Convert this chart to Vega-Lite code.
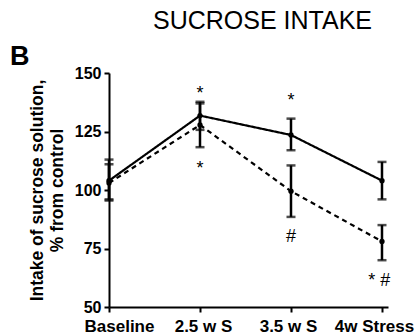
{
  "$schema": "https://vega.github.io/schema/vega-lite/v6.json",
  "autosize": "none",
  "padding": {"left": 109, "top": 73, "right": 30, "bottom": 29},
  "width": 279,
  "height": 234,
  "background": "white",
  "config": {
    "view": {"stroke": null},
    "font": "Liberation Sans",
    "axis": {
      "grid": false,
      "domainColor": "black",
      "domainWidth": 2,
      "tickColor": "black",
      "tickWidth": 2,
      "tickSize": 5,
      "labelColor": "black",
      "labelFont": "Liberation Sans",
      "labelFontWeight": "bold",
      "titleColor": "black",
      "titleFont": "Liberation Sans",
      "titleFontWeight": "bold"
    }
  },
  "title": {
    "text": "SUCROSE INTAKE",
    "font": "Liberation Sans",
    "fontSize": 25,
    "fontWeight": "normal",
    "color": "black",
    "anchor": "middle",
    "frame": "group",
    "baseline": "alphabetic",
    "offset": -11,
    "dx": 14
  },
  "datasets": {
    "means": [
      {"time": "Baseline", "pos": 0, "group": "A", "mean": 104, "lo": 96, "hi": 113},
      {"time": "2.5 w S", "pos": 1, "group": "A", "mean": 131.8, "lo": 125.7, "hi": 137.7},
      {"time": "3.5 w S", "pos": 2, "group": "A", "mean": 123.5, "lo": 117, "hi": 130.5},
      {"time": "4w Stress", "pos": 3, "group": "A", "mean": 104, "lo": 96, "hi": 112},
      {"time": "Baseline", "pos": 0, "group": "B", "mean": 103, "lo": 95.5, "hi": 111},
      {"time": "2.5 w S", "pos": 1, "group": "B", "mean": 127.8, "lo": 118.3, "hi": 137},
      {"time": "3.5 w S", "pos": 2, "group": "B", "mean": 99.5, "lo": 88.5, "hi": 110.5},
      {"time": "4w Stress", "pos": 3, "group": "B", "mean": 78, "lo": 70, "hi": 85}
    ],
    "notes": [
      {"pos": 1, "y": 139, "label": "*"},
      {"pos": 1, "y": 107, "label": "*"},
      {"pos": 2, "y": 135.8, "label": "*"},
      {"pos": 2, "y": 77.7, "label": "#"},
      {"pos": 2.97, "y": 58.8, "label": "*  #"}
    ],
    "panel": [
      {"pos": -1.088, "y": 153.4, "label": "B"}
    ]
  },
  "encoding": {
    "x": {
      "field": "pos",
      "type": "quantitative",
      "scale": {"domain": [0, 3.066], "nice": false, "zero": false},
      "axis": {
        "title": null,
        "values": [0, 1, 2, 3],
        "labelExpr": "['Baseline','2.5 w S','3.5 w S','4w Stress'][datum.value]",
        "labelFontSize": 17,
        "labelFlush": false,
        "labelPadding": 6,
        "labelOffset": {
          "condition": [
            {"test": "datum.value == 0", "value": 10},
            {"test": "datum.value == 1", "value": 3},
            {"test": "datum.value == 2", "value": -3}
          ],
          "value": -8
        }
      }
    }
  },
  "layer": [
    {
      "data": {"name": "means"},
      "mark": {"type": "line", "color": "black", "strokeWidth": 2.2},
      "encoding": {
        "y": {
          "field": "mean",
          "type": "quantitative",
          "scale": {"domain": [50, 150], "nice": false, "zero": false},
          "axis": {
            "title": ["Intake of sucrose solution,", "% from control"],
            "titleFontSize": 17.5,
            "titleLineHeight": 20,
            "titlePadding": 8,
            "values": [50, 75, 100, 125, 150],
            "labelFontSize": 16,
            "labelPadding": 3
          }
        },
        "detail": {"field": "group"},
        "strokeDash": {
          "field": "group",
          "type": "nominal",
          "scale": {"domain": ["A", "B"], "range": [[1, 0], [5, 4]]},
          "legend": null
        }
      }
    },
    {
      "data": {"name": "means"},
      "mark": {"type": "rule", "color": "black", "strokeWidth": 2.5},
      "encoding": {
        "y": {"field": "lo", "type": "quantitative"},
        "y2": {"field": "hi"}
      }
    },
    {
      "data": {"name": "means"},
      "mark": {"type": "tick", "color": "black", "orient": "horizontal", "thickness": 2.5, "size": 9},
      "encoding": {"y": {"field": "lo", "type": "quantitative"}}
    },
    {
      "data": {"name": "means"},
      "mark": {"type": "tick", "color": "black", "orient": "horizontal", "thickness": 2.5, "size": 9},
      "encoding": {"y": {"field": "hi", "type": "quantitative"}}
    },
    {
      "data": {"name": "means"},
      "mark": {"type": "circle", "color": "black", "opacity": 1, "size": 28},
      "encoding": {"y": {"field": "mean", "type": "quantitative"}}
    },
    {
      "data": {"name": "notes"},
      "mark": {"type": "text", "color": "black", "fontSize": 18, "baseline": "alphabetic", "align": "center", "font": "Liberation Sans"},
      "encoding": {
        "y": {"field": "y", "type": "quantitative"},
        "text": {"field": "label"}
      }
    },
    {
      "data": {"name": "panel"},
      "mark": {"type": "text", "color": "black", "fontSize": 27, "fontWeight": "bold", "baseline": "alphabetic", "align": "left", "font": "Liberation Sans", "clip": false},
      "encoding": {
        "y": {"field": "y", "type": "quantitative"},
        "text": {"field": "label"}
      }
    }
  ]
}
